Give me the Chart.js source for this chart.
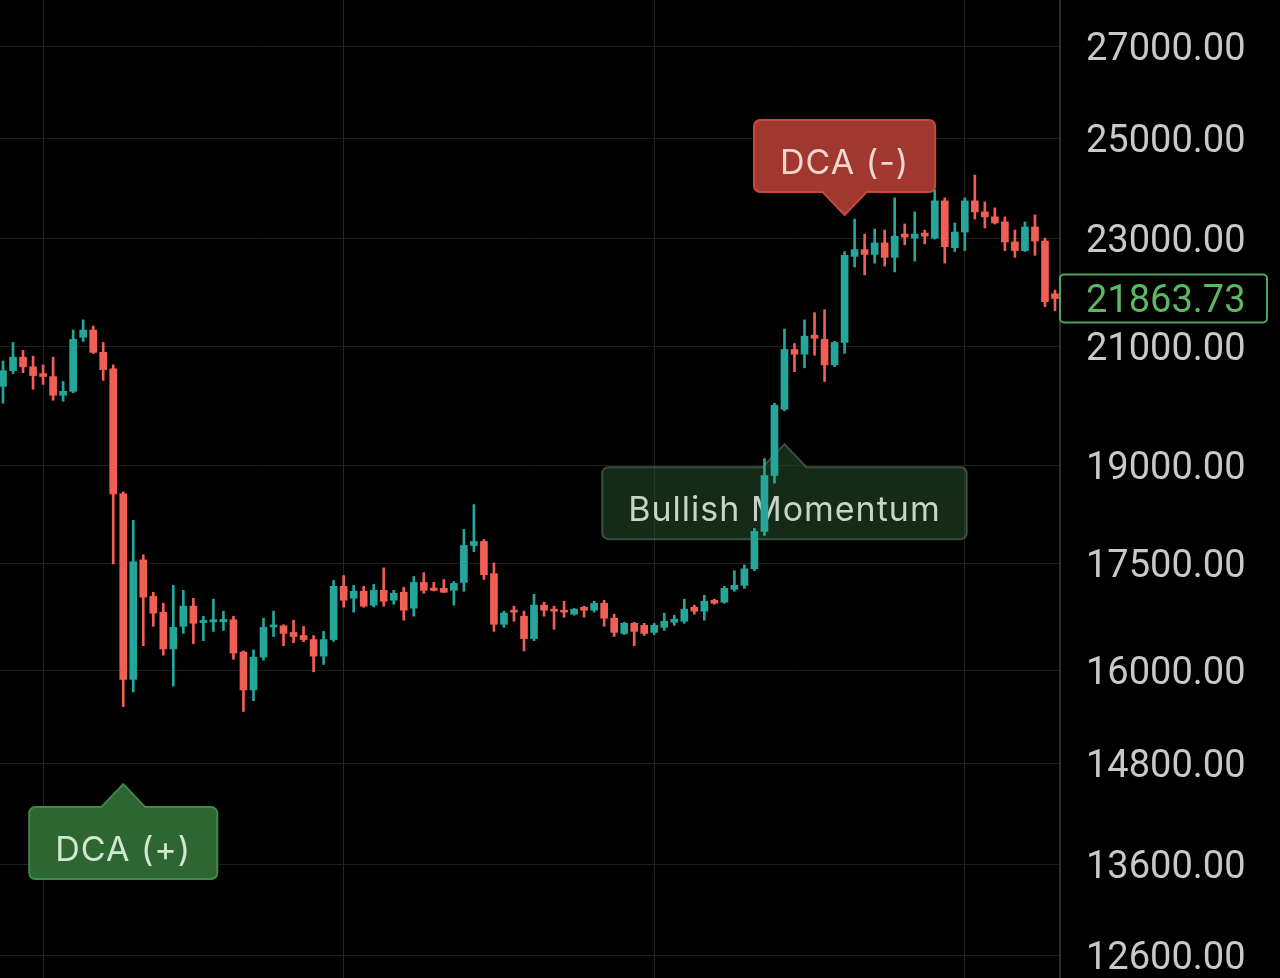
<!DOCTYPE html>
<html>
<head>
<meta charset="utf-8">
<title>BTC daily</title>
<script src="https://cdn.jsdelivr.net/npm/chart.js@4.4.0/dist/chart.umd.min.js"></script>
<style>
  html, body { margin: 0; padding: 0; background: #000; overflow: hidden; }
  #wrap { position: absolute; left: -2px; top: 0; width: 1282px; height: 978px; }
</style>
</head>
<body>
<div id="wrap"><canvas id="chart"></canvas></div>
<script>
// daily candles, 28 Oct 2022 .. 10 Feb 2023
const opens = [
  20311, 20580, 20815, 20647, 20530, 20479, 20160, 20227, 21165, 21294,
  20899, 20614, 18561, 15885, 17561, 17033, 16807, 16297, 16609, 16892,
  16660, 16670, 16672, 16700, 16254, 15745, 16184, 16600, 16615, 16524,
  16481, 16425, 16198, 16425, 17175, 17005, 17104, 16906, 17118, 16976,
  17090, 16863, 17231, 17150, 17146, 17118, 17231, 17773, 17833, 17359,
  16637, 16835, 16750, 16439, 16906, 16849, 16835, 16779, 16877, 16835,
  16934, 16722, 16510, 16651, 16623, 16524, 16594, 16665, 16679, 16877,
  16821, 16976, 16948, 17132, 17189, 17429, 17985, 18848, 19925, 20950,
  20866, 21202, 21128, 20681, 21073, 22651, 22780, 22688, 22908, 22633,
  23078, 23000, 23098, 23000, 23730, 22817, 23117, 23730, 23512, 23414,
  23315, 22927, 22761, 23216, 22945, 21950
];
const highs = [
  20748, 21073, 20933, 20832, 20681, 20815, 20395, 21294, 21477, 21367,
  21073, 20681, 18591, 18152, 17636, 17090, 16934, 17189, 17118, 17005,
  16750, 16991, 16821, 16750, 16268, 16283, 16722, 16821, 16630, 16694,
  16609, 16481, 16538, 17260, 17330, 17189, 17175, 17203, 17443, 17118,
  17160, 17316, 17373, 17231, 17274, 17245, 18015, 18394, 17863, 17515,
  16821, 16892, 16821, 17061, 16948, 16892, 16962, 16860, 16890, 16962,
  16976, 16779, 16665, 16665, 16651, 16651, 16793, 16764, 16991, 16906,
  17047, 16990, 17175, 17401, 17486, 18030, 19118, 20026, 21312, 21055,
  21477, 21606, 21661, 21092, 22743, 23370, 23078, 23176, 23156, 23790,
  23275, 23512, 23156, 23950, 23790, 23295, 23790, 24250, 23710, 23592,
  23414, 23156, 23315, 23453, 23000, 22020
];
const lows = [
  20026, 20530, 20546, 20261, 20345, 20076, 20059, 20200, 21092, 20880,
  20412, 17500, 15527, 15719, 16340, 16609, 16212, 15796, 16510, 16368,
  16410, 16538, 16552, 16156, 15464, 15604, 16142, 16467, 16340, 16382,
  16396, 15987, 16085, 16400, 16877, 16807, 16877, 16880, 16892, 16920,
  16694, 16750, 17075, 17110, 17085, 16906, 17104, 17682, 17274, 16538,
  16594, 16679, 16269, 16410, 16750, 16566, 16736, 16765, 16736, 16807,
  16609, 16467, 16495, 16340, 16481, 16495, 16552, 16623, 16651, 16779,
  16694, 16920, 16934, 17104, 17146, 17401, 17924, 18727, 19900, 20563,
  20630, 20849, 20395, 20650, 20882, 22450, 22303, 22523, 22468, 22358,
  22872, 22560, 22890, 22982, 22523, 22743, 22761, 23370, 23196, 23275,
  22761, 22633, 22743, 22670, 21716, 21640
];
const closes = [
  20580, 20815, 20647, 20496, 20479, 20160, 20227, 21128, 21294, 20899,
  20597, 18561, 15885, 17530, 17019, 16793, 16297, 16594, 16892, 16651,
  16690, 16700, 16705, 16240, 15745, 16184, 16594, 16620, 16510, 16467,
  16425, 16198, 16425, 17175, 16976, 17104, 16892, 17118, 16962, 17075,
  16835, 17231, 17118, 17118, 17090, 17217, 17773, 17833, 17344, 16637,
  16793, 16807, 16439, 16906, 16835, 16821, 16807, 16849, 16835, 16934,
  16722, 16524, 16651, 16538, 16510, 16623, 16679, 16708, 16849, 16821,
  16962, 16934, 17146, 17189, 17429, 17985, 18848, 19992, 20950, 20866,
  21184, 21147, 20681, 21073, 22670, 22780, 22688, 22908, 22633, 23039,
  23019, 23078, 23039, 23730, 22835, 23117, 23730, 23512, 23414, 23295,
  22927, 22761, 23216, 22945, 21807, 21863.73
];

const priceTicks = [12600, 13600, 14800, 16000, 17500, 19000, 21000, 23000, 25000, 27000];
const lastPrice = 21863.73;
const monthStarts = ['2022-11-01', '2022-12-01', '2023-01-01', '2023-02-01'];

// callouts: anchored on a candle index and a price, the tip of the arrow sits there
const notes = [
  { text: 'DCA (+)', index: 12, price: 14550, tone: 'green', pointer: 'up' },
  { text: 'Bullish Momentum', index: 78, price: 19350, tone: 'dim', pointer: 'up' },
  { text: 'DCA (-)', index: 84, price: 23450, tone: 'red', pointer: 'down' }
];

const UP = '#26a69a';
const DOWN = '#f05f55';
const AXIS_FONT = 'Roboto, "Noto Sans", sans-serif';
const NOTE_FONT = 'Inter, Roboto, sans-serif';

const noteTones = {
  red:   { fill: '#a1382f', stroke: '#c4493e', text: '#f3d5cd' },
  green: { fill: '#2e6633', stroke: '#418a46', text: '#d0e8cf' },
  dim:   { fill: 'rgba(40,76,44,0.55)', stroke: 'rgba(76,106,78,0.7)', text: '#c7d4c7' }
};

const startDay = Date.UTC(2022, 9, 28);
const dates = opens.map((_, i) => new Date(startDay + i * 86400000).toISOString().slice(0, 10));
const candleColors = opens.map((o, i) => closes[i] >= o ? UP : DOWN);

function notePath(ctx, left, top, right, bottom, r, tipX, tipY, half, up) {
  ctx.beginPath();
  ctx.moveTo(left + r, top);
  if (up) {
    ctx.lineTo(tipX - half, top);
    ctx.lineTo(tipX, tipY);
    ctx.lineTo(tipX + half, top);
  }
  ctx.arcTo(right, top, right, bottom, r);
  ctx.arcTo(right, bottom, left, bottom, r);
  if (!up) {
    ctx.lineTo(tipX + half, bottom);
    ctx.lineTo(tipX, tipY);
    ctx.lineTo(tipX - half, bottom);
  }
  ctx.arcTo(left, bottom, left, top, r);
  ctx.arcTo(left, top, right, top, r);
  ctx.closePath();
}

const calloutPlugin = {
  id: 'callouts',
  beforeDatasetsDraw(chart) {
    const { ctx, scales } = chart;
    ctx.save();
    ctx.font = '34px ' + NOTE_FONT;
    ctx.letterSpacing = '1px';
    notes.forEach(n => {
      const tone = noteTones[n.tone];
      const tipX = scales.x.getPixelForValue(n.index);
      const tipY = scales.y.getPixelForValue(n.price);
      const w = ctx.measureText(n.text).width + 52;
      const up = n.pointer === 'up';
      const top = up ? tipY + 23 : tipY - 95;
      const bottom = top + 72;
      notePath(ctx, tipX - w / 2, top, tipX + w / 2, bottom, 6, tipX, tipY, 22, up);
      ctx.fillStyle = tone.fill;
      ctx.fill();
      ctx.lineWidth = 2;
      ctx.strokeStyle = tone.stroke;
      ctx.stroke();
      ctx.fillStyle = tone.text;
      ctx.textAlign = 'center';
      ctx.textBaseline = 'alphabetic';
      ctx.fillText(n.text, tipX, bottom - 18);
    });
    ctx.restore();
  },
  afterDraw(chart) {
    // last price tag on the axis
    const { ctx } = chart;
    const y = chart.scales.y;
    const py = y.getPixelForValue(lastPrice);
    ctx.save();
    ctx.beginPath();
    ctx.roundRect(y.left, py - 24, 207, 48, 4);
    ctx.fillStyle = '#000';
    ctx.fill();
    ctx.lineWidth = 2;
    ctx.strokeStyle = '#4fa656';
    ctx.stroke();
    ctx.font = '38px ' + AXIS_FONT;
    ctx.fillStyle = '#5cb862';
    ctx.textAlign = 'left';
    ctx.textBaseline = 'middle';
    ctx.fillText(lastPrice.toFixed(2), y.left + 26, py + 4);
    ctx.restore();
  }
};

new Chart(document.getElementById('chart'), {
  type: 'bar',
  data: {
    labels: dates,
    datasets: [
      {
        label: 'body',
        data: opens.map((o, i) => [o, closes[i]]),
        backgroundColor: candleColors,
        barThickness: 7,
        minBarLength: 2,
        grouped: false
      },
      {
        label: 'wick',
        data: lows.map((l, i) => [l, highs[i]]),
        backgroundColor: candleColors,
        barThickness: 2,
        grouped: false
      }
    ]
  },
  options: {
    responsive: true,
    maintainAspectRatio: false,
    animation: false,
    layout: { padding: 0 },
    plugins: {
      legend: { display: false },
      tooltip: { enabled: false }
    },
    scales: {
      x: {
        ticks: { display: false, autoSkip: false },
        border: { display: false },
        grid: {
          offset: false,
          drawTicks: false,
          color: c => monthStarts.includes(dates[c.index]) ? '#242424' : 'transparent'
        },
        afterFit: s => { s.height = 0; s.paddingLeft = 0; s.paddingRight = 0; }
      },
      y: {
        type: 'logarithmic',
        position: 'right',
        min: 12366,
        max: 28085,
        afterBuildTicks: s => { s.ticks = priceTicks.map(v => ({ value: v })); },
        afterFit: s => { s.width = 220; s.paddingTop = 0; s.paddingBottom = 0; },
        border: { display: true, color: '#2e2e2e', width: 2 },
        grid: { color: '#1e1e1e', drawTicks: false },
        ticks: {
          autoSkip: false,
          padding: 26,
          labelOffset: 4,
          color: '#c9c9c9',
          font: { family: AXIS_FONT, size: 38 },
          callback: v => Number(v).toFixed(2)
        }
      }
    }
  },
  plugins: [calloutPlugin]
});
</script>
</body>
</html>
